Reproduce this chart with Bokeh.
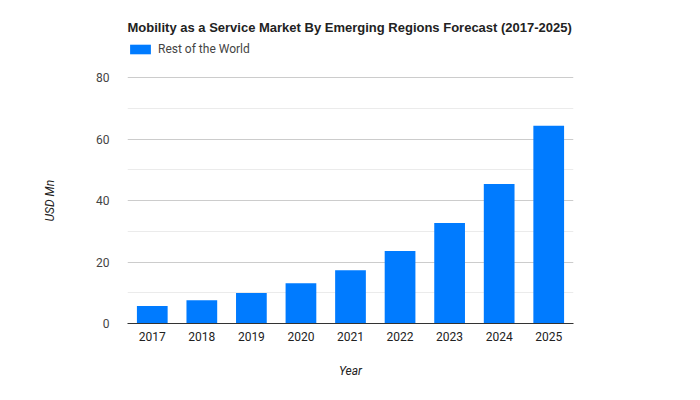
from bokeh.plotting import figure
from bokeh.models import Legend, LegendItem, Range1d, FactorRange, FixedTicker, Title
from bokeh.embed import file_html
from bokeh.resources import INLINE

years = ["2017", "2018", "2019", "2020", "2021", "2022", "2023", "2024", "2025"]
rest_of_world = [5.7, 7.6, 9.9, 13.1, 17.3, 23.6, 32.7, 45.4, 64.3]
y_ticks = [0, 20, 40, 60, 80]
y_minor_ticks = [10, 30, 50, 70]
series_name = "Rest of the World"
y_title = "USD Mn"
x_title = "Year"
title_text = "Mobility as a Service Market By Emerging Regions Forecast (2017-2025)"

FONT = "Roboto"

# frame extends above 80 to host the legend row (ticks stop at 80)
p = figure(x_range=FactorRange(*years), y_range=Range1d(0, 91.4),
           width=700, height=400, output_backend="svg", toolbar_location=None,
           min_border_left=127, min_border_right=127, min_border_top=42, min_border_bottom=77)
p.title = None
r = p.vbar(x=years, top=rest_of_world, width=0.62, color="#007bff", line_color=None)

p.x_range.range_padding = 0
p.outline_line_color = None
p.background_fill_color = "white"
p.border_fill_color = "white"

p.yaxis.ticker = FixedTicker(ticks=y_ticks, minor_ticks=y_minor_ticks)
p.ygrid.grid_line_color = "#cccccc"
p.ygrid.minor_grid_line_color = "#ebebeb"
p.xgrid.grid_line_color = None
p.yaxis.axis_line_color = None
p.yaxis.major_tick_line_color = None
p.yaxis.minor_tick_line_color = None
p.yaxis.major_label_standoff = 12
p.yaxis.major_label_text_font = FONT
p.yaxis.major_label_text_font_size = "12px"
p.yaxis.major_label_text_color = "#444444"
# trailing no-break spaces nudge the rotated title down to the 0-80 band centre
p.yaxis.axis_label = y_title + "\u00a0" * 12
p.yaxis.axis_label_text_font = FONT
p.yaxis.axis_label_text_font_style = "italic"
p.yaxis.axis_label_text_font_size = "12px"
p.yaxis.axis_label_text_color = "#222222"
p.yaxis.axis_label_standoff = 36

p.xaxis.axis_line_color = "#333333"
p.xaxis.axis_line_width = 1
p.xaxis.major_tick_line_color = None
p.xaxis.minor_tick_line_color = None
p.xaxis.major_label_standoff = 2
p.xaxis.major_label_text_font = FONT
p.xaxis.major_label_text_font_size = "12px"
p.xaxis.major_label_text_color = "#222222"
p.xaxis.axis_label = x_title
p.xaxis.axis_label_text_font = FONT
p.xaxis.axis_label_text_font_style = "italic"
p.xaxis.axis_label_text_font_size = "12px"
p.xaxis.axis_label_text_color = "#222222"
p.xaxis.axis_label_standoff = 20

legend = Legend(items=[LegendItem(label=series_name, renderers=[r])],
                location="top_left", orientation="horizontal",
                glyph_width=26, glyph_height=12, label_standoff=5,
                padding=0, margin=0, spacing=0, border_line_color=None,
                background_fill_alpha=0,
                label_text_font=FONT, label_text_font_size="12px",
                label_text_color="#444444", label_height=12)
p.add_layout(legend, "center")

t = Title(text=title_text, align="left", text_font="Liberation Sans",
          text_font_style="bold", text_font_size="13px", text_color="#222222",
          offset=0, standoff=16)
p.add_layout(t, "above")

open("out.html", "w").write(file_html(p, INLINE))
